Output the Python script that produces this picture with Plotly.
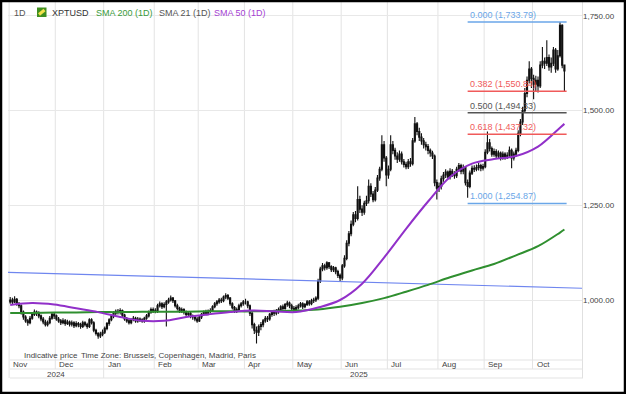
import plotly.graph_objects as go

# ---------------- data ----------------
closes = [
    1000, 995, 1002, 990, 985, 968, 955, 945, 940, 952, 962, 968, 965, 958, 950, 942, 935, 940, 952, 962, 958,
    950, 945, 940, 945, 938, 942, 936, 940, 932, 938, 935, 930, 940, 935, 930, 948, 940, 920, 912, 905, 910, 915,
    925, 938, 948, 958, 965, 970, 968, 972, 960, 950, 945, 940, 948, 952, 945, 950, 948, 945, 952, 958, 968, 975, 972,
    970, 985, 990, 982, 988, 995, 1000, 1005, 998, 985, 978, 972, 975, 968, 962, 965, 958, 955, 950, 945,
    955, 962, 968, 965, 970, 972, 982, 990, 995, 1000, 998, 1008, 1012, 1005, 990, 980, 972, 975, 985, 990, 995,
    995, 985, 965, 935, 920, 915, 930, 935, 945, 952, 950, 962, 968, 965, 970, 975, 982, 978, 988, 992, 985, 978,
    975, 980, 985, 990, 982, 988, 995, 990, 998, 1000, 1005, 1050, 1082, 1090, 1085, 1098, 1088, 1080, 1085, 1075, 1065, 1058,
    1090, 1110, 1150, 1175, 1200, 1225, 1215, 1265, 1240, 1232, 1255, 1262, 1300, 1280, 1265, 1290, 1322, 1345, 1410, 1375, 1330,
    1345, 1410, 1395, 1380, 1372, 1385, 1365, 1358, 1352, 1365, 1360, 1420, 1465, 1445, 1430, 1420, 1410, 1405, 1395, 1388, 1380, 1310, 1295,
    1300, 1320, 1330, 1338, 1325, 1340, 1332, 1328, 1345, 1355, 1340, 1350, 1310, 1300, 1335, 1348, 1345, 1350, 1355, 1348, 1352,
    1390, 1415, 1400, 1385, 1392, 1380, 1388, 1375, 1385, 1378, 1382, 1395, 1375, 1385, 1395, 1440, 1470, 1500, 1545, 1580, 1610, 1585,
    1570, 1580, 1565, 1620, 1630, 1625, 1640, 1615, 1625, 1660, 1610, 1645, 1725, 1620, 1605,
]
highs = [
    1008, 1006, 1010, 1005, 995, 988, 972, 960, 950, 958, 968, 975, 972, 970, 962, 955, 948, 946, 958, 968, 966,
    962, 955, 950, 952, 950, 948, 946, 946, 944, 944, 942, 940, 945, 944, 940, 952, 952, 944, 924, 915, 916, 922,
    930, 942, 952, 962, 970, 975, 976, 978, 975, 964, 955, 950, 952, 958, 956, 955, 954, 952, 956, 963, 972, 980, 980,
    978, 990, 996, 994, 994, 1000, 1006, 1012, 1008, 1000, 990, 982, 980, 978, 972, 970, 968, 962, 958, 955,
    960, 966, 972, 974, 975, 978, 986, 995, 1000, 1005, 1006, 1012, 1018, 1016, 1008, 994, 984, 980, 990, 995, 1000,
    1003, 998, 988, 968, 940, 930, 935, 942, 950, 958, 958, 966, 972, 974, 976, 980, 986, 988, 992, 998, 996, 990,
    984, 986, 990, 995, 994, 992, 1000, 1000, 1003, 1006, 1010, 1056, 1088, 1098, 1096, 1102, 1100, 1092, 1090, 1088, 1080, 1070,
    1095, 1118, 1158, 1182, 1210, 1232, 1235, 1300, 1275, 1250, 1262, 1275, 1318, 1308, 1288, 1298, 1330, 1352, 1435, 1420, 1380,
    1355, 1435, 1420, 1402, 1390, 1395, 1392, 1372, 1365, 1372, 1375, 1428, 1483, 1470, 1455, 1440, 1428, 1418, 1412, 1400, 1394, 1384, 1318,
    1310, 1328, 1338, 1345, 1342, 1348, 1346, 1340, 1352, 1362, 1360, 1358, 1354, 1318, 1342, 1355, 1356, 1358, 1362, 1360, 1360,
    1398, 1445, 1425, 1405, 1400, 1398, 1395, 1392, 1392, 1390, 1390, 1405, 1400, 1392, 1402, 1448, 1478, 1510, 1560, 1590, 1630, 1615,
    1595, 1592, 1590, 1630, 1668, 1640, 1686, 1648, 1640, 1668, 1665, 1660, 1734, 1728, 1622,
]
lows = [
    990, 988, 992, 985, 978, 962, 948, 940, 932, 936, 948, 958, 958, 952, 944, 936, 930, 930, 936, 948, 950,
    945, 940, 934, 936, 932, 934, 930, 930, 926, 928, 928, 924, 926, 930, 924, 926, 935, 915, 906, 898, 900, 904,
    910, 920, 932, 944, 952, 960, 962, 962, 955, 945, 940, 935, 936, 944, 940, 940, 942, 940, 940, 948, 954, 964, 966,
    965, 966, 980, 976, 978, 930, 990, 996, 992, 980, 972, 966, 966, 962, 956, 956, 952, 948, 944, 940,
    942, 950, 958, 960, 960, 965, 968, 978, 985, 990, 992, 994, 1002, 1000, 985, 975, 966, 966, 970, 980, 985,
    988, 978, 958, 925, 910, 885, 905, 920, 928, 940, 942, 945, 956, 958, 960, 964, 970, 972, 974, 982, 978, 972,
    968, 970, 975, 980, 976, 978, 984, 985, 986, 992, 995, 1000, 1045, 1076, 1078, 1080, 1082, 1074, 1074, 1068, 1058, 1050,
    1052, 1085, 1105, 1142, 1168, 1195, 1205, 1210, 1230, 1222, 1225, 1248, 1255, 1272, 1258, 1260, 1285, 1315, 1340, 1365, 1300,
    1320, 1340, 1385, 1370, 1362, 1365, 1358, 1350, 1345, 1346, 1352, 1355, 1415, 1435, 1420, 1410, 1400, 1395, 1385, 1378, 1372, 1300, 1265,
    1285, 1292, 1312, 1322, 1318, 1318, 1325, 1320, 1322, 1338, 1332, 1332, 1302, 1270, 1295, 1330, 1338, 1340, 1342, 1340, 1342,
    1348, 1385, 1392, 1378, 1378, 1372, 1374, 1368, 1370, 1370, 1372, 1376, 1348, 1368, 1378, 1390, 1432, 1462, 1495, 1535, 1572, 1560,
    1530, 1550, 1548, 1560, 1612, 1610, 1618, 1605, 1600, 1618, 1600, 1605, 1640, 1612, 1552,
]
first_open = 995
opens = [first_open] + closes[:-1]   # spot market: each bar opens at the prior close

month_labels = ["Nov", "Dec", "Jan", "Feb", "Mar", "Apr", "May", "Jun", "Jul", "Aug", "Sep", "Oct"]
month_start = [0, 21, 43, 66, 86, 107, 129, 151, 172, 195, 216, 238]
year_labels = ["2024", "2025"]

sma_idx = [0, 10, 20, 30, 40, 50, 60, 70, 80, 90, 100, 110, 120, 130, 140, 150, 160, 170, 180, 190,
           200, 210, 220, 230, 240, 250, 252]
sma200 = [966, 966, 967, 967, 968, 968, 969, 969, 969, 970, 970, 970, 971, 972, 975, 982, 992, 1005, 1022, 1040,
          1060, 1078, 1095, 1118, 1142, 1178, 1186]
sma50 = [987, 992, 988, 978, 968, 955, 945, 945, 955, 962, 968, 972, 970, 968, 980, 1000, 1043, 1112, 1188, 1260,
         1325, 1360, 1372, 1380, 1405, 1455, 1465]

trend_x = [-1, 260]
trend_y = [1073, 1031]

fib_ratios = [0.0, 0.382, 0.5, 0.618, 1.0]
fib_values = [1733.79, 1550.84, 1494.33, 1437.32, 1254.87]
fib_colors = ["#6aa6e8", "#f05a5a", "#555555", "#f05a5a", "#6aa6e8"]
fib_start, fib_end = 208, 253

y_ticks = [1000, 1250, 1500, 1750]

# ---------------- figure ----------------
W, H = 626, 394
FONT = "Arial, Liberation Sans, sans-serif"


def px(p):
    return p / W


def py(p):
    return 1 - p / H


x = list(range(len(closes)))
fig = go.Figure()

fig.add_trace(go.Scatter(x=trend_x, y=trend_y, mode="lines",
                         line=dict(color="#6f86ef", width=1.2), hoverinfo="skip"))
fig.add_trace(go.Candlestick(
    x=x, open=opens, high=highs, low=lows, close=closes,
    increasing=dict(line=dict(color="#111111", width=1.1), fillcolor="#ffffff"),
    decreasing=dict(line=dict(color="#111111", width=1.1), fillcolor="#111111"),
    whiskerwidth=0))
fig.add_trace(go.Scatter(x=sma_idx, y=sma200, mode="lines",
                         line=dict(color="#2f8f2f", width=2, shape="spline", smoothing=1)))
fig.add_trace(go.Scatter(x=sma_idx, y=sma50, mode="lines",
                         line=dict(color="#9130c9", width=2, shape="spline", smoothing=1)))

shapes = []
annotations = []

# month grid lines / table
for lab, s in zip(month_labels, month_start):
    xv = s - 0.5
    bottom = 378 if lab in ("Nov", "Jan") else 369
    shapes.append(dict(type="line", xref="x", yref="paper", x0=xv, x1=xv, y0=py(bottom), y1=1,
                       line=dict(color="#e3e3e3", width=1), layer="below"))
    annotations.append(dict(text=lab, xref="x", yref="paper", x=xv, y=py(364.5), xanchor="left",
                            yanchor="middle", xshift=2, showarrow=False,
                            font=dict(family=FONT, size=8, color="#444")))
# right border
shapes.append(dict(type="line", xref="paper", yref="paper", x0=px(582.5), x1=px(582.5), y0=py(378), y1=1,
                   line=dict(color="#e0e0e0", width=1), layer="below"))
for yy in (360, 369, 378):
    shapes.append(dict(type="line", xref="paper", yref="paper", x0=px(10), x1=px(583), y0=py(yy), y1=py(yy),
                       line=dict(color="#e3e3e3", width=1), layer="below"))
annotations.append(dict(text=year_labels[0], xref="x", yref="paper", x=(month_start[0] + month_start[2]) / 2 - 0.5,
                        y=py(374), xanchor="center", yanchor="middle", showarrow=False,
                        font=dict(family=FONT, size=8, color="#444")))
annotations.append(dict(text=year_labels[1], xref="x", yref="paper", x=158.5,
                        y=py(374), xanchor="center", yanchor="middle", showarrow=False,
                        font=dict(family=FONT, size=8, color="#444")))

# fibonacci
for r, v, c in zip(fib_ratios, fib_values, fib_colors):
    shapes.append(dict(type="line", xref="x", yref="y", x0=fib_start, x1=fib_end, y0=v, y1=v,
                       line=dict(color=c, width=1.5)))
    annotations.append(dict(text=f"{r:.3f} ({v:,.2f})", xref="x", yref="y", x=fib_start, y=v,
                            xanchor="left", yanchor="bottom", yshift=0, showarrow=False,
                            font=dict(family=FONT, size=9, color=c)))

# header legend
hdr = [("1D", 12, "#555555"), ("XPTUSD", 50, "#333333"), ("SMA 200 (1D)", 94, "#3a9a3a"),
       ("SMA 21 (1D)", 157, "#555555"), ("SMA 50 (1D)", 212, "#a53fd3")]
for t, xp, c in hdr:
    annotations.append(dict(text=t, xref="paper", yref="paper", x=px(xp), y=py(12.5), xanchor="left",
                            yanchor="middle", showarrow=False, font=dict(family=FONT, size=9, color=c)))
shapes.append(dict(type="rect", xref="paper", yref="paper", x0=px(37), x1=px(46.5), y0=py(17), y1=py(7.5),
                   fillcolor="#3f8f1f", line=dict(width=0)))
shapes.append(dict(type="line", xref="paper", yref="paper", x0=px(39), x1=px(44.5), y0=py(14.5), y1=py(10),
                   line=dict(color="#f2e14a", width=3)))

# footnote
annotations.append(dict(text="Indicative price", xref="paper", yref="paper", x=px(22), y=py(355),
                        xanchor="left", yanchor="middle", showarrow=False,
                        font=dict(family=FONT, size=8, color="#444")))
annotations.append(dict(text="Time Zone: Brussels, Copenhagen, Madrid, Paris", xref="paper", yref="paper",
                        x=px(79), y=py(355), xanchor="left", yanchor="middle", showarrow=False,
                        font=dict(family=FONT, size=8, color="#444")))

# outer frame
shapes.append(dict(type="rect", xref="paper", yref="paper", x0=px(1), x1=px(W - 1), y0=py(H - 1), y1=py(1),
                   line=dict(color="#000000", width=2.5)))

fig.update_layout(
    width=W, height=H, margin=dict(l=0, r=0, t=0, b=0),
    paper_bgcolor="white", plot_bgcolor="white", showlegend=False,
    font=dict(family=FONT),
    xaxis=dict(domain=[px(8), px(582)], range=[-1, 260], showgrid=False, zeroline=False,
               showticklabels=False, ticks="", rangeslider=dict(visible=False), fixedrange=True),
    yaxis=dict(domain=[py(360), py(8)], range=[841.6, 1770.9], side="right", tickvals=y_ticks,
               tickformat=",.2f", gridcolor="#e8e8e8", zeroline=False, showline=False, ticks="",
               tickfont=dict(family=FONT, size=8, color="#444"), automargin=False, fixedrange=True),
    shapes=shapes, annotations=annotations,
)

fig.write_html("out.html", config={"displayModeBar": False},
               post_script="document.body.style.margin='0px';document.body.style.overflow='hidden';")
